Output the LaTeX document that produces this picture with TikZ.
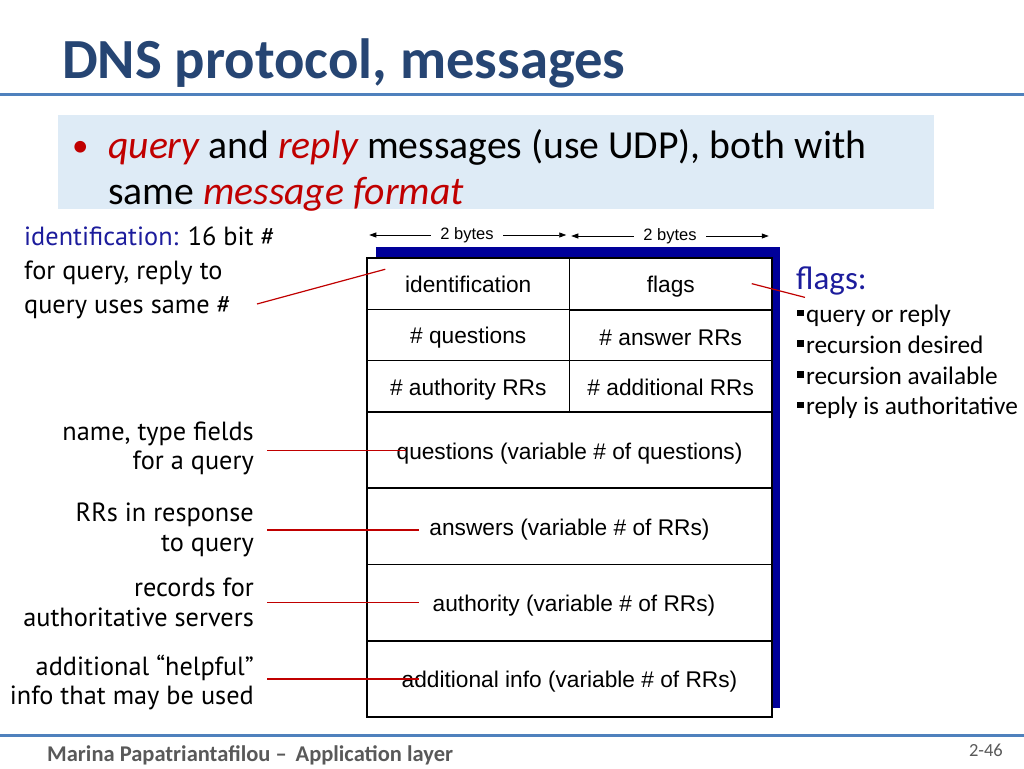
\documentclass[tikz,border=0pt]{standalone}
\usepackage{fontspec}
\setmainfont{Carlito}
\newfontfamily\arialfont{Liberation Sans}
\newfontfamily\gillfont{PT Sans}
\usetikzlibrary{arrows.meta,positioning,calc}
\definecolor{titleblue}{HTML}{264573}
\definecolor{ruleblue}{HTML}{4F81BD}
\definecolor{boxblue}{HTML}{DEEBF6}
\definecolor{hired}{HTML}{C00000}
\definecolor{shadowblue}{HTML}{000099}
\definecolor{labelblue}{HTML}{1C1C9C}
\definecolor{footgray}{HTML}{595959}
\newcommand{\sqbullet}{\rule[0.26em]{0.25em}{0.25em}\hspace{2.5pt}}

\begin{document}
\begin{tikzpicture}[
  x=1pt,y=-1pt,
  half/.style={draw,line width=1.5pt,fill=white,minimum width=202.5pt,minimum height=51.3pt,inner sep=0pt,text height=20pt,text depth=2pt,font=\arialfont\fontsize{22.7}{26}\selectfont},
  wide/.style={draw,line width=1.5pt,fill=white,minimum width=405pt,minimum height=76.25pt,inner sep=0pt,text height=20pt,text depth=2pt,font=\arialfont\fontsize{22.7}{26}\selectfont},
  bytes/.style={font=\arialfont\fontsize{16.5}{20}\selectfont},
  lbl/.style={anchor=east,inner sep=0pt,align=right,font=\gillfont\fontsize{26.3}{29.5}\selectfont},
  arr/.style={{Triangle[length=7pt,width=5pt]}-,line width=0.8pt},
  pointer/.style={hired,line width=1.2pt},
]
  \useasboundingbox (0,0) rectangle (1024,768);

  % Title and bullet
  \node[anchor=base west,inner sep=0pt,text=titleblue,font=\bfseries\fontsize{56.7}{60}\selectfont] (title) at (62,78) {DNS protocol, messages};
  \draw[ruleblue,line width=3pt] (0,94) -- (1024,94);
  \fill[boxblue] (58,115) rectangle (934,209);
  \node[anchor=base west,inner sep=0pt,text=hired,font=\fontsize{33}{40}\selectfont] (dot) at (72,156) {•};
  \node[anchor=base west,inner sep=0pt,font=\fontsize{39.7}{46}\selectfont] (line1) at (108,158) {\textcolor{hired}{\itshape query} and \textcolor{hired}{\itshape reply} messages (use UDP), both with};
  \node[anchor=base west,inner sep=0pt,font=\fontsize{39.7}{46}\selectfont] (line2) at (108,204) {same \textcolor{hired}{\itshape message format}};

  % Message format
  \fill[shadowblue] (376,247) rectangle (780,708);
  \node[half] (id) at (468.25,283.65) {identification};
  \node[half] (fl) at (670.75,283.65) {flags};
  \node[half] (nq) at (468.25,334.95) {\# questions};
  \node[half] (na) at (670.75,336) {\# answer RRs};
  \node[half] (nau) at (468.25,386.25) {\# authority RRs};
  \node[half] (nad) at (670.75,386.25) {\# additional RRs};
  \node[wide] (qs) at (569.5,450.1) {questions (variable \# of questions)};
  \node[wide] (ans) at (569.5,526.4) {answers (variable \# of RRs)};
  \node[wide] (auth) at (569.5,602.6) {\hspace{9pt}authority (variable \# of RRs)};
  \node[wide] (add) at (569.5,678.9) {additional info (variable \# of RRs)};

  \node[bytes] (b1) at (467,235) {2 bytes};
  \node[bytes] (b2) at (670,236) {2 bytes};
  \draw[arr,shorten <=3pt,shorten >=6pt] (b1.west -| id.west) -- (b1.west);
  \draw[arr,shorten <=4pt,shorten >=6pt] (b1.east -| id.east) -- (b1.east);
  \draw[arr,shorten <=2.5pt,shorten >=6pt] (b2.west -| fl.west) -- (b2.west);
  \draw[arr,shorten <=4pt,shorten >=6pt] (b2.east -| fl.east) -- (b2.east);

  % Left annotations
  \node[anchor=west,inner sep=0pt,align=left,font=\gillfont\fontsize{26.3}{34}\selectfont] (idlbl) at (24,273) {\textcolor{labelblue}{identification:} 16 bit \#\\for query, reply to\\query uses same \#};
  \coordinate (idfrom) at (257,304);
  \draw[pointer] (idfrom) -- ([xshift=19pt,yshift=-12pt]id.north west);

  \node[lbl] (qlbl) at (254,448.5) {name, type fields\\for a query};
  \node[lbl] (albl) at (254,530) {RRs in response\\to query};
  \node[lbl] (aulbl) at (254,602.5) {records for\\authoritative servers};
  \node[lbl] (adlbl) at (254,682.5) {additional “helpful”\\info that may be used};
  \draw[pointer,shorten <=13pt] (qlbl.east |- qs.west) -- ([xshift=40pt]qs.west);
  \draw[pointer,shorten <=13pt] (albl.east) -- (albl.east -| ans.west) -- ++(53,0);
  \draw[pointer,shorten <=13pt] (aulbl.east) -- (aulbl.east -| auth.west) -- ++(53,0);
  \draw[pointer,shorten <=13pt] (adlbl.east |- add.west) -- ([xshift=53pt]add.west);

  % Flags
  \node[anchor=west,inner sep=0pt,text=labelblue,font=\fontsize{33}{40}\selectfont] (flt) at (796,281) {flags:};
  \node[anchor=west,inner sep=0pt,align=left,font=\fontsize{25.3}{30.7}\selectfont] (fll) at (797,362) {\sqbullet query or reply\\\sqbullet recursion desired\\\sqbullet recursion available\\\sqbullet reply is authoritative};
  \draw[pointer] ([xshift=-21pt]fl.east) -- ([xshift=9pt,yshift=-2pt]flt.south west);

  % Footer
  \draw[ruleblue,line width=3pt] (0,735) -- (1024,735);
  \node[anchor=base west,inner sep=0pt,text=footgray,font=\bfseries\fontsize{22.5}{26}\selectfont] (foot) at (47,761) {Marina Papatriantafilou –\, Application layer};
  \node[anchor=base east,inner sep=0pt,text=footgray,font=\fontsize{18.5}{22}\selectfont] (page) at (1003,756) {2-46};
\end{tikzpicture}
\end{document}
